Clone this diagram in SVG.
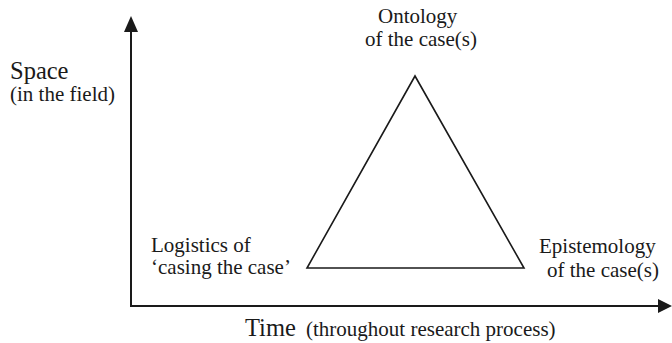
<svg xmlns="http://www.w3.org/2000/svg" width="672" height="343" viewBox="0 0 672 343">
<style>
.big { font-size: 24.5px; }
.lbl { font-size: 21px; }
.axis { stroke: #1a1a1a; stroke-width: 2; fill: none; }
.tri { stroke: #1a1a1a; stroke-width: 1.6; fill: none; stroke-linejoin: miter; }
.head { fill: #1a1a1a; }
.t { font-family: "Times New Roman", "Liberation Serif", Tinos, "DejaVu Serif", serif; fill: #1a1a1a; }
</style>
<rect width="672" height="343" fill="#fff"/>
<g id="connectors">
  <line class="axis" x1="131" y1="307" x2="131" y2="30"/>
  <polygon class="head" points="131,16 124,32 138,32"/>
  <line class="axis" x1="130" y1="306" x2="660" y2="306"/>
  <polygon class="head" points="672,306 658,299 658,313"/>
</g>
<g id="triangle">
  <polygon class="tri" points="415,76 307,268 524,268"/>
</g>
<g id="space-label">
  <text class="t big" x="10" y="79">Space</text>
  <text class="t lbl" x="10" y="101">(in the field)</text>
</g>
<g id="time-label">
  <text class="t big" x="245" y="336">Time</text>
  <text class="t lbl" x="306" y="336">(throughout research process)</text>
</g>
<g id="ontology">
  <text class="t lbl" x="378" y="23">Ontology</text>
  <text class="t lbl" x="365" y="46">of the case(s)</text>
</g>
<g id="logistics">
  <text class="t lbl" x="151" y="252">Logistics of</text>
  <text class="t lbl" x="151" y="274">‘casing the case’</text>
</g>
<g id="epistemology">
  <text class="t lbl" x="539" y="253">Epistemology</text>
  <text class="t lbl" x="547" y="277">of the case(s)</text>
</g>
</svg>
